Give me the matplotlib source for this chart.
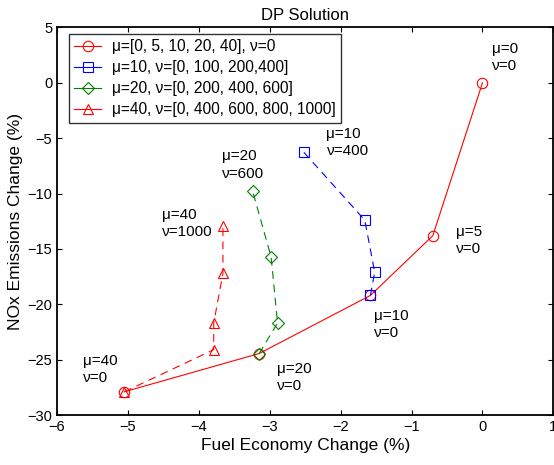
import matplotlib
matplotlib.use("Agg")
import matplotlib.pyplot as plt

plt.rcParams.update({
    'font.family': ['Liberation Sans', 'DejaVu Sans'],
    'font.size': 10.5,
    'xtick.direction': 'in',
    'ytick.direction': 'in',
    'xtick.top': True,
    'ytick.right': True,
})

# mu sweep, nu = 0
mu_x = [0.0, -0.70, -1.58, -3.15, -5.05]
mu_y = [0.0, -13.8, -19.2, -24.45, -27.9]

# mu = 10, nu sweep
nu10_x = [-1.58, -1.52, -1.66, -2.52]
nu10_y = [-19.2, -17.1, -12.4, -6.27]

# mu = 20, nu sweep
nu20_x = [-3.15, -2.89, -2.98, -3.24]
nu20_y = [-24.45, -21.7, -15.75, -9.8]

# mu = 40, nu sweep
nu40_x = [-5.05, -3.79, -3.79, -3.66, -3.66]
nu40_y = [-27.9, -24.1, -21.7, -17.2, -12.95]

labels = [
    "μ=[0, 5, 10, 20, 40], ν=0",
    "μ=10, ν=[0, 100, 200,400]",
    "μ=20, ν=[0, 200, 400, 600]",
    "μ=40, ν=[0, 400, 600, 800, 1000]",
]

# point annotations: (x, y, text)
notes = [
    (0.13, 3.7, "μ=0\nν=0"),
    (-0.38, -12.8, "μ=5\nν=0"),
    (-1.53, -20.4, "μ=10\nν=0"),
    (-2.2, -4.0, "μ=10\nν=400"),
    (-3.68, -6.0, "μ=20\nν=600"),
    (-4.52, -11.3, "μ=40\nν=1000"),
    (-5.63, -24.5, "μ=40\nν=0"),
    (-2.9, -25.2, "μ=20\nν=0"),
]

fig = plt.figure(figsize=(5.54, 4.65), dpi=100)
ax = fig.add_axes([0.1029, 0.1075, 0.896, 0.8335])

mk = dict(markersize=7.5, markerfacecolor='none', markeredgewidth=0.8, linewidth=0.8)
dash = (7, 5)
ax.plot(mu_x, mu_y, '-', color='#ff0000', marker='o', markeredgecolor='#ff0000', label=labels[0], **mk)
ax.plot(nu10_x, nu10_y, '--', color='#0000ff', marker='s', markeredgecolor='#0000ff', label=labels[1],
        dashes=dash, **mk)
ax.plot(nu20_x, nu20_y, '--', color='#008000', marker='D', markeredgecolor='#008000', label=labels[2],
        dashes=dash, markersize=6, markerfacecolor='none', markeredgewidth=0.8, linewidth=0.8)
ax.plot(nu40_x, nu40_y, '--', color='#ff0000', marker='^', markeredgecolor='#ff0000', label=labels[3],
        dashes=dash, **mk)

for x, y, t in notes:
    ax.text(x, y, t, ha='left', va='top', fontsize=11, linespacing=1.3)

ax.set_xlim(-6, 1)
ax.set_ylim(-30, 5)
ax.set_xticks(range(-6, 2))
ax.set_yticks(range(-30, 6, 5))
ax.set_xlabel("Fuel Economy Change (%)", fontsize=12.5, labelpad=3)
ax.set_ylabel("NOx Emissions Change (%)", fontsize=12.5, labelpad=3)
ax.set_title("DP Solution", fontsize=12, pad=5)
for s in ax.spines.values():
    s.set_linewidth(1.3)

leg = ax.legend(loc='upper left', bbox_to_anchor=(0.024, 0.983), borderaxespad=0,
                fontsize=11.2, frameon=True, fancybox=False, handlelength=1.7,
                labelspacing=0.38, borderpad=0.35, handletextpad=0.7)
leg.get_frame().set_edgecolor('black')
leg.get_frame().set_linewidth(1.0)
for h in leg.get_lines():
    h.set_linestyle('-')

fig.savefig("out.png", dpi=100)
